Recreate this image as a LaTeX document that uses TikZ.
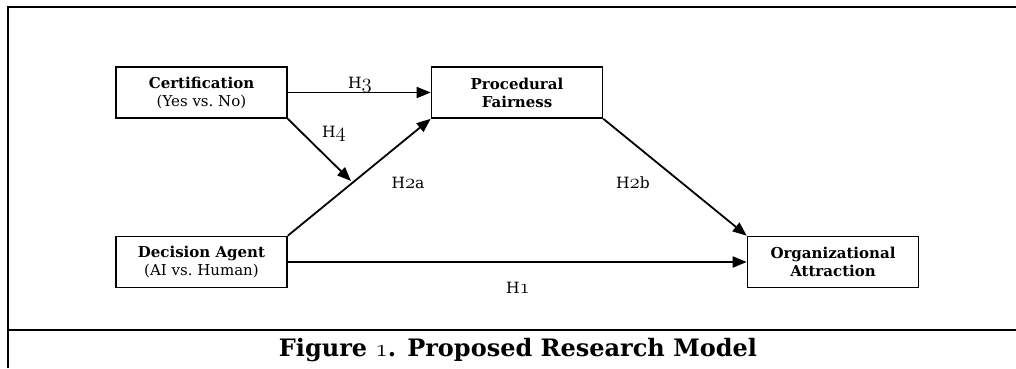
\documentclass[tikz,border=0pt]{standalone}
\usepackage{fontspec}
\setmainfont{DejaVu Serif}
\usetikzlibrary{arrows.meta}
\newcommand\osn[2]{{\fontencoding{OML}\fontfamily{lmm}\fontseries{b}\fontshape{it}\fontsize{#1}{#1}\selectfont #2}}
\begin{document}
\begin{tikzpicture}[x=1pt,y=-1pt,
  box/.style={draw,line width=1.6pt,minimum width=171pt,minimum height=51pt,inner sep=0pt,align=center,font=\fontsize{15}{18}\selectfont},
  arr/.style={line width=1.8pt,-{Triangle[length=14pt,width=11pt]}},
  lab/.style={font=\fontsize{15.5}{18}\selectfont,inner sep=0pt},
  frame/.style={line width=2.5pt}]
\useasboundingbox (0,0) rectangle (1016,368);
\coordinate (tl) at (8,7);
\coordinate (tr) at (1016,7);
\coordinate (bl) at (8,368);
\coordinate (ml) at (8,330);
\coordinate (mr) at (1016,330);
\draw[frame] (bl) -- (tl) -- (tr);
\draw[frame] (ml) -- (mr);
\node[box] (cert) at (201.5,92.5) {\textbf{Certification}\\(Yes vs.\ No)};
\node[box] (pf) at (517,92.5) {\textbf{Procedural}\\\textbf{Fairness}};
\node[box] (da) at (201.5,262) {\textbf{Decision Agent}\\(AI vs.\ Human)};
\node[box] (oa) at (833,262) {\textbf{Organizational}\\\textbf{Attraction}};
\coordinate (h4end) at (351,181);
\draw[arr] (cert.east) -- (pf.west);
\draw[arr] (cert.south east) -- (h4end);
\draw[arr] (da.north east) -- (pf.south west);
\draw[arr] (pf.south east) -- (oa.north west);
\draw[arr] (da.east) -- (oa.west);
\node[lab] (h3) at (360,85) {H\osn{20}{3}};
\node[lab] (h4) at (334,134) {H\osn{20}{4}};
\node[lab] (h2a) at (408,183) {H\osn{20}{2}a};
\node[lab] (h2b) at (633,183) {H\osn{20}{2}b};
\node[lab] (h1) at (518,288) {H\osn{20}{1}};
\node[inner sep=0pt,font=\fontsize{24}{28}\selectfont\bfseries] (cap) at (518,350) {Figure \osn{31}{1}. Proposed Research Model};
\end{tikzpicture}
\end{document}
